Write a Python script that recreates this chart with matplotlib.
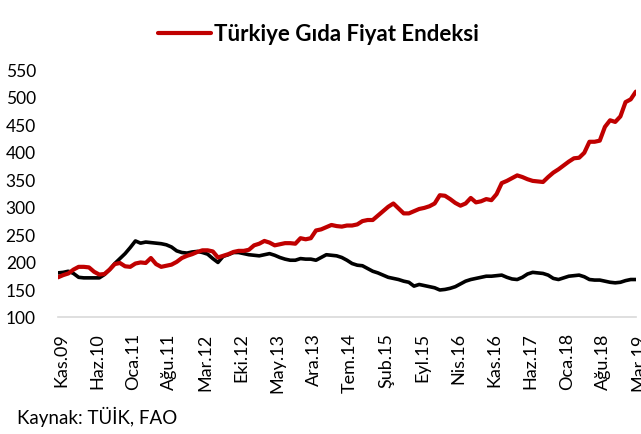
import matplotlib
matplotlib.use("Agg")
import matplotlib.pyplot as plt
import matplotlib.transforms as mtransforms
import numpy as np

plt.rcParams['font.family'] = ['Lato', 'DejaVu Sans']

tick_labels = ["Kas.09", "Haz.10", "Oca.11", "Ağu.11", "Mar.12", "Eki.12", "May.13",
               "Ara.13", "Tem.14", "Şub.15", "Eyl.15", "Nis.16", "Kas.16", "Haz.17",
               "Oca.18", "Ağu.18", "Mar.19"]

turkiye = [172, 176, 179, 186, 191, 191, 190, 182, 177, 178, 186, 196, 198, 192, 191, 197,
           199, 198, 207, 196, 191, 193, 195, 200, 207, 211, 214, 218, 221, 221, 219, 208,
           211, 214, 218, 220, 220, 222, 230, 233, 238, 235, 230, 232, 234, 234, 233, 243,
           241, 243, 257, 259, 263, 267, 265, 264, 266, 266, 268, 274, 276, 276, 284, 292,
           300, 306, 297, 288, 288, 292, 296, 298, 301, 306, 321, 320, 314, 307, 302, 306,
           316, 308, 310, 314, 312, 323, 343, 347, 352, 357, 354, 350, 347, 346, 345, 354,
           362, 368, 375, 382, 388, 389, 398, 418, 418, 420, 445, 457, 454, 464, 490, 495,
           509]

fao = [180, 181, 183, 179, 172, 171, 171, 171, 171, 177, 186, 197, 206, 215, 226, 238,
       234, 236, 235, 234, 233, 231, 227, 220, 217, 216, 218, 219, 217, 214, 206, 199,
       210, 213, 217, 217, 215, 213, 212, 211, 213, 215, 212, 208, 205, 203, 203, 206,
       205, 205, 203, 208, 213, 212, 211, 208, 203, 197, 194, 193, 188, 183, 180, 176,
       172, 170, 168, 165, 163, 156, 159, 157, 155, 153, 149, 150, 152, 155, 160, 165,
       168, 170, 172, 174, 174, 175, 176, 172, 169, 168, 172, 178, 181, 180, 179, 176,
       170, 168, 171, 174, 175, 176, 173, 168, 167, 167, 165, 163, 162, 163, 166, 168,
       168]

x = np.arange(len(turkiye))

fig = plt.figure(figsize=(6.41, 4.35), dpi=100)
ax = fig.add_axes([0.0905, 0.269, 0.9015, 0.570])

ax.plot(x, fao, color="black", lw=2.6, solid_capstyle="round", solid_joinstyle="round")
line_r, = ax.plot(x, turkiye, color="#C00000", lw=3.0, solid_capstyle="round",
                  solid_joinstyle="round")

ax.set_xlim(0, len(x) - 1)
ax.set_ylim(100, 550)
ax.set_yticks(np.arange(100, 551, 50))
ax.tick_params(axis="y", length=0, labelsize=12.5, pad=16)
ax.set_xticks(np.arange(0, len(x), 7))
ax.set_xticklabels(tick_labels, rotation=90, fontsize=13)
ax.tick_params(axis="x", length=0, pad=11)
offset = mtransforms.ScaledTranslation(3 / 100, 0, fig.dpi_scale_trans)
for lab in ax.get_xticklabels():
    lab.set_transform(lab.get_transform() + offset)

for s in ["top", "right", "left"]:
    ax.spines[s].set_visible(False)
ax.spines["bottom"].set_color("#d9d9d9")
ax.spines["bottom"].set_linewidth(1.2)

fig.legend([line_r], ["Türkiye Gıda Fiyat Endeksi"], loc="center",
           bbox_to_anchor=(0.497, 0.92), frameon=False,
           prop={"weight": "bold", "size": 16}, handlelength=2.4, handletextpad=0.15)

fig.text(0.026, 0.041, "Kaynak: TÜİK, FAO", fontsize=13.5, va="center")

fig.savefig("out.png", dpi=100)
